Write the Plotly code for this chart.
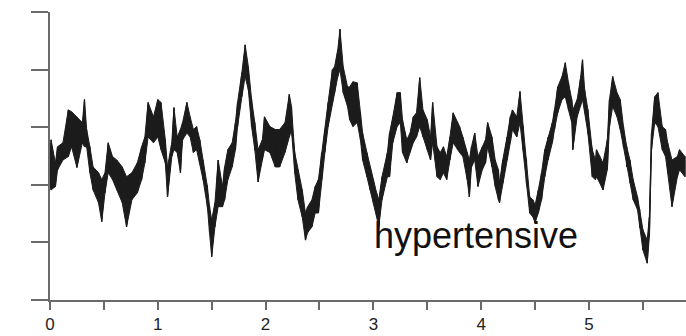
import plotly.graph_objects as go

# time (x units) with upper / lower edge of the noisy recorded trace
t = [0.00, 0.01, 0.05, 0.07, 0.12, 0.17, 0.20, 0.25, 0.30, 0.32, 0.34, 0.37, 0.40, 0.45, 0.48, 0.51,
     0.54, 0.58, 0.62, 0.67, 0.71, 0.76, 0.81, 0.85, 0.88, 0.91, 0.96, 1.00, 1.03, 1.07, 1.09, 1.13,
     1.15, 1.18, 1.21, 1.23, 1.27, 1.30, 1.33, 1.36, 1.39, 1.42, 1.46, 1.48, 1.50, 1.53, 1.56, 1.60,
     1.62, 1.65, 1.69, 1.72, 1.74, 1.78, 1.81, 1.84, 1.87, 1.90, 1.93, 1.97, 1.99, 2.04, 2.09, 2.13,
     2.18, 2.22, 2.24, 2.27, 2.30, 2.34, 2.37, 2.39, 2.43, 2.46, 2.49, 2.52, 2.55, 2.58, 2.62, 2.64,
     2.67, 2.69, 2.72, 2.76, 2.78, 2.81, 2.85, 2.88, 2.90, 2.94, 2.97, 3.00, 3.03, 3.05, 3.08, 3.13,
     3.15, 3.18, 3.22, 3.25, 3.27, 3.31, 3.34, 3.37, 3.40, 3.43, 3.46, 3.50, 3.53, 3.55, 3.59, 3.62,
     3.65, 3.68, 3.71, 3.74, 3.78, 3.80, 3.83, 3.87, 3.89, 3.91, 3.94, 3.97, 4.01, 4.04, 4.06, 4.10,
     4.13, 4.16, 4.17, 4.20, 4.24, 4.27, 4.29, 4.33, 4.36, 4.39, 4.42, 4.45, 4.48, 4.50, 4.53, 4.56,
     4.59, 4.62, 4.66, 4.68, 4.71, 4.75, 4.78, 4.81, 4.84, 4.85, 4.89, 4.92, 4.94, 4.96, 4.99, 5.03,
     5.06, 5.07, 5.10, 5.13, 5.17, 5.19, 5.22, 5.26, 5.29, 5.32, 5.35, 5.38, 5.41, 5.45, 5.47, 5.50,
     5.54, 5.56, 5.58, 5.61, 5.64, 5.68, 5.71, 5.73, 5.77, 5.82, 5.84, 5.89]

hi = [2.43, 2.78, 2.38, 2.66, 2.73, 3.30, 3.27, 3.18, 3.08, 3.48, 2.96, 2.66, 2.31, 2.21, 2.09, 2.21,
      2.73, 2.49, 2.43, 2.31, 2.14, 2.21, 2.38, 2.66, 2.83, 3.43, 3.18, 3.48, 3.43, 2.78, 2.31, 2.73,
      3.34, 2.83, 2.96, 3.08, 3.43, 3.18, 2.96, 3.01, 2.78, 2.43, 1.97, 1.62, 1.39, 1.69, 2.43, 1.97,
      2.31, 2.61, 2.73, 3.08, 3.43, 3.95, 4.43, 4.05, 3.48, 3.08, 2.61, 2.78, 3.18, 3.01, 2.96, 2.96,
      3.08, 3.57, 3.36, 2.56, 2.26, 1.91, 1.51, 1.62, 1.74, 1.97, 2.09, 2.56, 2.96, 3.43, 4.00, 4.05,
      4.35, 4.70, 4.05, 3.70, 3.70, 3.79, 3.77, 3.25, 2.90, 2.56, 2.31, 2.09, 1.86, 1.74, 2.14, 2.56,
      2.90, 3.18, 3.60, 3.60, 3.13, 2.78, 2.90, 3.18, 3.25, 3.86, 3.30, 3.13, 2.83, 3.43, 2.66, 2.56,
      2.66, 2.49, 2.83, 3.25, 3.08, 3.01, 2.83, 2.56, 2.43, 2.66, 2.90, 2.49, 2.66, 2.78, 3.08, 2.83,
      2.43, 2.26, 2.03, 2.43, 2.83, 3.18, 3.30, 3.18, 3.62, 3.01, 2.43, 1.79, 1.74, 1.65, 1.91, 2.21,
      2.61, 2.83, 3.08, 3.30, 3.70, 3.88, 4.12, 3.77, 3.48, 3.30, 3.48, 3.83, 4.17, 3.65, 3.30, 2.61,
      2.43, 2.61, 2.49, 2.38, 2.78, 3.48, 3.88, 3.60, 3.48, 3.01, 2.66, 2.43, 2.09, 1.79, 1.57, 1.22,
      1.04, 1.44, 2.90, 3.53, 3.60, 3.01, 2.96, 2.73, 2.43, 2.49, 2.61, 2.49]

lo = [2.00, 1.91, 1.97, 2.26, 2.43, 2.49, 2.66, 2.30, 2.73, 2.66, 2.66, 2.21, 1.91, 1.69, 1.36, 1.86,
      2.21, 2.09, 1.91, 1.69, 1.27, 1.74, 1.86, 2.09, 2.38, 2.83, 2.73, 2.83, 2.61, 2.38, 1.79, 2.49,
      2.61, 2.56, 2.21, 2.78, 2.90, 2.83, 2.56, 2.61, 2.38, 2.09, 1.62, 1.17, 0.75, 1.27, 1.62, 1.62,
      1.74, 2.09, 2.31, 2.61, 3.01, 3.53, 3.88, 3.65, 3.01, 2.61, 2.05, 2.43, 2.61, 2.56, 2.31, 2.31,
      2.56, 2.83, 2.96, 2.21, 1.74, 1.44, 1.04, 1.17, 1.27, 1.51, 1.51, 2.09, 2.56, 3.01, 3.43, 3.60,
      3.88, 4.00, 3.60, 3.36, 3.13, 3.01, 3.08, 2.78, 2.43, 2.14, 1.91, 1.69, 1.44, 1.27, 1.74, 2.14,
      2.14, 2.73, 3.01, 3.08, 2.56, 2.38, 2.56, 2.73, 2.83, 3.01, 2.83, 2.61, 2.43, 2.73, 2.14, 2.09,
      2.21, 2.09, 2.43, 2.73, 2.61, 2.56, 2.49, 2.09, 1.79, 2.31, 2.43, 1.97, 2.26, 2.38, 2.66, 2.31,
      1.97, 1.74, 1.69, 2.03, 2.43, 2.73, 2.96, 2.83, 3.08, 2.61, 2.03, 1.51, 1.44, 1.34, 1.51, 1.74,
      2.14, 2.43, 2.73, 2.96, 3.25, 3.48, 3.53, 3.30, 3.08, 2.61, 3.18, 3.36, 3.48, 3.30, 2.90, 2.14,
      2.09, 2.14, 2.03, 1.91, 2.26, 3.01, 3.36, 3.18, 2.96, 2.66, 2.31, 2.03, 1.74, 1.57, 1.27, 0.87,
      0.64, 1.10, 2.61, 3.08, 3.01, 2.61, 2.49, 2.21, 1.62, 2.14, 2.26, 2.14]

x_ticks = [0, 0.5, 1, 1.5, 2, 2.5, 3, 3.5, 4, 4.5, 5, 5.5]
x_tick_text = ["0", "", "1", "", "2", "", "3", "", "4", "", "5", ""]
y_ticks = [0, 1, 2, 3, 4, 5]
label = "hypertensive"

ink = "#1c1c1c"

fig = go.Figure()

# solid band between upper and lower edge
band_x = list(t) + list(reversed(t))
band_y = list(hi) + list(reversed(lo))
fig.add_trace(go.Scatter(x=band_x, y=band_y, mode="lines", fill="toself",
                         fillcolor=ink, line=dict(color=ink, width=1),
                         hoverinfo="skip", showlegend=False))

# zig-zag between the upper and lower edge at each reading (noise texture)
xs, ys = [], []
for ti, h, l in zip(t, hi, lo):
    xs += [ti, ti]
    ys += [h, l]
fig.add_trace(go.Scatter(x=xs, y=ys, mode="lines",
                         line=dict(color=ink, width=1.3),
                         hoverinfo="skip", showlegend=False))

fig.add_annotation(x=2.99, y=1.12, xref="x", yref="y", text=label, showarrow=False,
                   xanchor="left", yanchor="middle",
                   font=dict(family="Liberation Sans, Arial, sans-serif", size=36, color="#111111"))

axis_col = "#6a6a6a"
fig.update_layout(
    width=686, height=336,
    margin=dict(l=50, r=0, t=12, b=36, autoexpand=False),
    paper_bgcolor="white", plot_bgcolor="white",
    showlegend=False,
    xaxis=dict(range=[0, 5.9], showgrid=False, zeroline=False, automargin=False,
               showline=True, linecolor=axis_col, linewidth=1.5,
               ticks="outside", ticklen=8, tickwidth=1.5, tickcolor=axis_col,
               tickvals=x_ticks, ticktext=x_tick_text, ticklabelstandoff=0,
               tickfont=dict(family="Liberation Sans, Arial, sans-serif", size=17, color="#222222")),
    yaxis=dict(range=[0, 5], showgrid=False, zeroline=False, automargin=False,
               showline=True, linecolor=axis_col, linewidth=1.5,
               ticks="outside", ticklen=17, tickwidth=1.5, tickcolor=axis_col,
               tickvals=y_ticks, showticklabels=False),
)

fig.write_html("out.html")
